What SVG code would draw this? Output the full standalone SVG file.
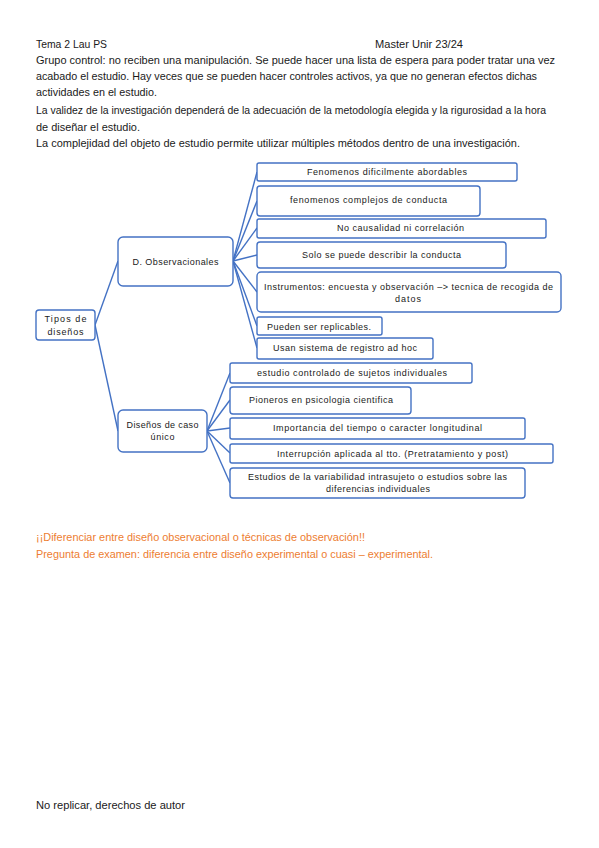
<svg xmlns="http://www.w3.org/2000/svg" width="599" height="848" viewBox="0 0 599 848">
<style>
.b{font-family:"Liberation Sans","Open Sans",sans-serif;font-size:11px;fill:#1a1a1a}
.o{font-family:"Liberation Sans","Open Sans",sans-serif;font-size:11px;fill:#ed7d31}
.n{font-family:"Liberation Sans","Open Sans",sans-serif;font-size:9px;fill:#1a1a1a;text-anchor:middle}
.box{fill:#ffffff;stroke:#4472c4;stroke-width:1.4}
.c{stroke:#4472c4;stroke-width:1.4;fill:none}
</style>
<rect width="599" height="848" fill="#ffffff"/>
<g id="page-text">
<text class="b" x="36" y="48" textLength="71" lengthAdjust="spacingAndGlyphs">Tema 2 Lau PS</text>
<text class="b" x="375" y="48" textLength="88" lengthAdjust="spacingAndGlyphs">Master Unir 23/24</text>
<text class="b" x="36" y="64" textLength="519" lengthAdjust="spacingAndGlyphs">Grupo control: no reciben una manipulación. Se puede hacer una lista de espera para poder tratar una vez</text>
<text class="b" x="36" y="80" textLength="501" lengthAdjust="spacingAndGlyphs">acabado el estudio. Hay veces que se pueden hacer controles activos, ya que no generan efectos dichas</text>
<text class="b" x="36" y="96" textLength="121" lengthAdjust="spacingAndGlyphs">actividades en el estudio.</text>
<text class="b" x="36" y="114" textLength="510" lengthAdjust="spacingAndGlyphs">La validez de la investigación dependerá de la adecuación de la metodología elegida y la rigurosidad a la hora</text>
<text class="b" x="36" y="131" textLength="104" lengthAdjust="spacingAndGlyphs">de diseñar el estudio.</text>
<text class="b" x="36" y="147" textLength="484" lengthAdjust="spacingAndGlyphs">La complejidad del objeto de estudio permite utilizar múltiples métodos dentro de una investigación.</text>
<text class="o" x="36" y="541" textLength="329" lengthAdjust="spacingAndGlyphs">¡¡Diferenciar entre diseño observacional o técnicas de observación!!</text>
<text class="o" x="36" y="558" textLength="397" lengthAdjust="spacingAndGlyphs">Pregunta de examen: diferencia entre diseño experimental o cuasi – experimental.</text>
<text class="b" x="36" y="809" textLength="149" lengthAdjust="spacingAndGlyphs">No replicar, derechos de autor</text>
</g>
<g id="connectors">
<line class="c" x1="95" y1="325" x2="118" y2="261"/>
<line class="c" x1="95" y1="325" x2="118" y2="431"/>
<line class="c" x1="233" y1="261" x2="257" y2="172"/>
<line class="c" x1="233" y1="261" x2="257" y2="201"/>
<line class="c" x1="233" y1="261" x2="257" y2="228"/>
<line class="c" x1="233" y1="261" x2="257" y2="255"/>
<line class="c" x1="233" y1="261" x2="257" y2="292"/>
<line class="c" x1="233" y1="261" x2="257" y2="326"/>
<line class="c" x1="233" y1="261" x2="257" y2="348"/>
<line class="c" x1="207" y1="431" x2="230" y2="373"/>
<line class="c" x1="207" y1="431" x2="230" y2="400"/>
<line class="c" x1="207" y1="431" x2="230" y2="428"/>
<line class="c" x1="207" y1="431" x2="230" y2="453"/>
<line class="c" x1="207" y1="431" x2="230" y2="483"/>
</g>
<g id="tipos">
<rect class="box" x="36" y="310" width="59" height="30" rx="3"/>
<text class="n" x="65.5" y="322" textLength="42" lengthAdjust="spacing">Tipos de</text>
<text class="n" x="65.5" y="335" textLength="36" lengthAdjust="spacing">diseños</text>
</g>
<g id="observacionales">
<rect class="box" x="118" y="237" width="115" height="49" rx="5"/>
<text class="n" x="175.5" y="265" textLength="86" lengthAdjust="spacing">D. Observacionales</text>
</g>
<g id="obs1">
<rect class="box" x="257" y="163" width="260" height="18" rx="2"/>
<text class="n" x="387" y="175" textLength="160" lengthAdjust="spacing">Fenomenos dificilmente abordables</text>
</g>
<g id="obs2">
<rect class="box" x="257" y="186" width="223" height="30" rx="3"/>
<text class="n" x="368.5" y="203" textLength="157" lengthAdjust="spacing">fenomenos complejos de conducta</text>
</g>
<g id="obs3">
<rect class="box" x="257" y="219" width="289" height="19" rx="2"/>
<text class="n" x="400.5" y="231" textLength="127" lengthAdjust="spacing">No causalidad ni correlación</text>
</g>
<g id="obs4">
<rect class="box" x="257" y="242" width="249" height="26" rx="3"/>
<text class="n" x="381.5" y="258" textLength="159" lengthAdjust="spacing">Solo se puede describir la conducta</text>
</g>
<g id="obs5">
<rect class="box" x="257" y="272" width="304" height="40" rx="4"/>
<text class="n" x="408.5" y="290" textLength="289" lengthAdjust="spacing">Instrumentos: encuesta y observación –&gt; tecnica de recogida de</text>
<text class="n" x="408" y="302" textLength="26" lengthAdjust="spacing">datos</text>
</g>
<g id="obs6">
<rect class="box" x="257" y="317" width="125" height="18" rx="2"/>
<text class="n" x="319" y="330" textLength="104" lengthAdjust="spacing">Pueden ser replicables.</text>
</g>
<g id="obs7">
<rect class="box" x="257" y="338" width="176" height="21" rx="2"/>
<text class="n" x="345" y="351" textLength="144" lengthAdjust="spacing">Usan sistema de registro ad hoc</text>
</g>
<g id="caso-unico">
<rect class="box" x="118" y="410" width="89" height="42" rx="5"/>
<text class="n" x="162.5" y="428" textLength="72" lengthAdjust="spacing">Diseños de caso</text>
<text class="n" x="162.5" y="440" textLength="24" lengthAdjust="spacing">único</text>
</g>
<g id="caso1">
<rect class="box" x="230" y="363" width="242" height="20" rx="2"/>
<text class="n" x="352" y="376" textLength="190" lengthAdjust="spacing">estudio controlado de sujetos individuales</text>
</g>
<g id="caso2">
<rect class="box" x="230" y="387" width="181" height="27" rx="3"/>
<text class="n" x="321" y="403" textLength="144" lengthAdjust="spacing">Pioneros en psicologia cientifica</text>
</g>
<g id="caso3">
<rect class="box" x="230" y="418" width="295" height="21" rx="2"/>
<text class="n" x="377.5" y="431" textLength="209" lengthAdjust="spacing">Importancia del tiempo o caracter longitudinal</text>
</g>
<g id="caso4">
<rect class="box" x="230" y="444" width="323" height="19" rx="2"/>
<text class="n" x="392.5" y="457" textLength="231" lengthAdjust="spacing">Interrupción aplicada al tto. (Pretratamiento y post)</text>
</g>
<g id="caso5">
<rect class="box" x="230" y="468" width="295" height="30" rx="3"/>
<text class="n" x="377.5" y="480" textLength="259" lengthAdjust="spacing">Estudios de la variabilidad intrasujeto o estudios sobre las</text>
<text class="n" x="378" y="492" textLength="104" lengthAdjust="spacing">diferencias individuales</text>
</g>
</svg>
